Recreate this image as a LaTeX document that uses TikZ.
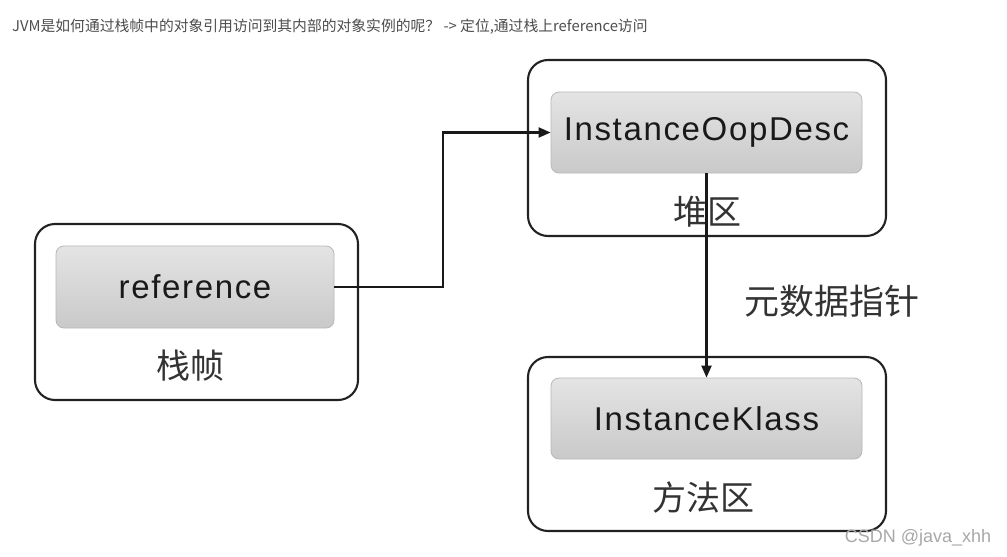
\documentclass[tikz,border=0pt]{standalone}
\usepackage{fontspec}
\usetikzlibrary{arrows.meta}
\newfontfamily\cjk{Noto Sans CJK SC}
\newfontfamily\boxfont[LetterSpace=5]{Liberation Sans}
\newfontfamily\wmfont{Liberation Sans}
\definecolor{hdr}{HTML}{4D4D4D}
\definecolor{frame}{HTML}{222222}
\definecolor{innerborder}{HTML}{B8B8B8}
\definecolor{gtop}{HTML}{E4E4E4}
\definecolor{gbot}{HTML}{C9C9C9}
\definecolor{lbl}{HTML}{333333}
\definecolor{wm}{HTML}{A8A8A8}
\tikzset{
  outerbox/.style={draw=frame, line width=2.1pt, rounded corners=20pt, fill=white, inner sep=0pt},
  innerbox/.style={draw=innerborder, line width=0.8pt, rounded corners=8pt, top color=gtop, bottom color=gbot, inner sep=0pt, font=\boxfont\fontsize{33}{36}\selectfont, text=black!90},
  arealabel/.style={font=\cjk\fontsize{34}{38}\selectfont, text=lbl, inner sep=0pt},
  conn/.style={draw=black!90, line width=2.1pt},
  tip/.style={-{Triangle[length=12pt,width=10pt]}}
}
\begin{document}
\begin{tikzpicture}[x=1pt,y=-1pt]
\useasboundingbox[fill=white] (0,0) rectangle (1007,557);
% header
\node[anchor=west, font=\cjk\fontsize{14.8}{16}\selectfont, text=hdr, inner sep=0pt] (hdr) at (12,27) {JVM是如何通过栈帧中的对象引用访问到其内部的对象实例的呢？ -> 定位,通过栈上reference访问};
% outer boxes
\node[outerbox, minimum width=323pt, minimum height=176pt] (stack) at (196.5,312) {};
\node[outerbox, minimum width=358pt, minimum height=176pt] (heap) at (707,148) {};
\node[outerbox, minimum width=358pt, minimum height=174pt] (method) at (707,444) {};
% inner boxes
\node[innerbox, minimum width=278pt, minimum height=82pt] (ref) at (195,287) {reference};
\node[innerbox, minimum width=311pt, minimum height=81pt] (oop) at (706.5,132.5) {InstanceOopDesc};
\node[innerbox, minimum width=311pt, minimum height=81pt] (klass) at (706.5,418.5) {InstanceKlass};
% area labels
\node[arealabel] (stacklbl) at (190,366) {栈帧};
\node[arealabel] (heaplbl) at (707,212) {堆区};
\node[arealabel] (methodlbl) at (703,498) {方法区};
% connectors
\coordinate (bend) at (443,287);
\draw[conn, tip] (ref.east) -- (bend) |- (oop.west);
\draw[conn, tip] (oop.south) -- (klass.north);
\node[font=\cjk\fontsize{35}{38}\selectfont, text=lbl, inner sep=0pt] (meta) at (832,301) {元数据指针};
% watermark
\node[font=\wmfont\fontsize{18}{20}\selectfont, text=wm, inner sep=0pt] (wmk) at (918,538) {CSDN @java\_xhh};
\end{tikzpicture}
\end{document}
